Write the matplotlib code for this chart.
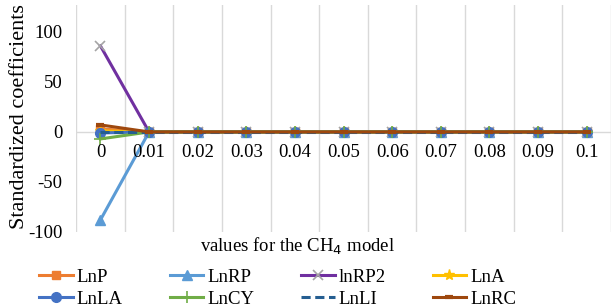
import numpy as np
import matplotlib.pyplot as plt

plt.rcParams['font.family'] = ['Liberation Serif', 'DejaVu Serif']
plt.rcParams['axes.unicode_minus'] = False

categories = ['0', '0.01', '0.02', '0.03', '0.04', '0.05', '0.06', '0.07', '0.08', '0.09', '0.1']

# standardized coefficients per series (all shrink to 0 after the first lambda)
LnP = [3, 0, 0, 0, 0, 0, 0, 0, 0, 0, 0]
LnRP = [-88, 0, 0, 0, 0, 0, 0, 0, 0, 0, 0]
lnRP2 = [86, 0, 0, 0, 0, 0, 0, 0, 0, 0, 0]
LnA = [1, 0, 0, 0, 0, 0, 0, 0, 0, 0, 0]
LnLA = [-1, 0, 0, 0, 0, 0, 0, 0, 0, 0, 0]
LnCY = [-7, 0, 0, 0, 0, 0, 0, 0, 0, 0, 0]
LnLI = [0, 0, 0, 0, 0, 0, 0, 0, 0, 0, 0]
LnRC = [7, 0, 0, 0, 0, 0, 0, 0, 0, 0, 0]

series = [
    ('LnP', LnP, dict(color='#ED7D31', marker='s', ms=6)),
    ('LnRP', LnRP, dict(color='#5B9BD5', marker='^', ms=7)),
    ('lnRP2', lnRP2, dict(color='#7030A0', marker='x', ms=7, mec='#A5A5A5', mew=1.2)),
    ('LnA', LnA, dict(color='#FFC000', marker='*', ms=8)),
    ('LnLA', LnLA, dict(color='#4472C4', marker='o', ms=7)),
    ('LnCY', LnCY, dict(color='#70AD47', marker='+', ms=8, mew=1.2)),
    ('LnLI', LnLI, dict(color='#255E91', ls=(0, (3, 1.5)))),
    ('LnRC', LnRC, dict(color='#9E480E', marker='_', ms=6, mew=3)),
]

fig = plt.figure(figsize=(6.14, 3.08), dpi=100)
ax = fig.add_axes([0.124, 0.247, 0.871, 0.737])

x = np.arange(len(categories))
lines = []
for name, vals, st in series:
    ln, = ax.plot(x, vals, lw=2.2, label=name, **st)
    lines.append(ln)

ax.set_xlim(-0.5, len(categories) - 0.5)
ax.set_ylim(-100, 127)
ax.set_yticks([-100, -50, 0, 50, 100])
ax.tick_params(axis='y', length=0, labelsize=13.5, pad=10)
ax.set_xticks([])
for xb in np.arange(-0.5, len(categories), 1.0):
    ax.axvline(xb, color='#D9D9D9', lw=1, zorder=0)
ax.axhline(0, color='#D9D9D9', lw=1, zorder=0)
for s in ax.spines.values():
    s.set_visible(False)

for i, lbl in enumerate(categories):
    ax.annotate(lbl, (i, 0), xytext=(0, -9), textcoords='offset points',
                ha='center', va='top', fontsize=13.5)

ax.set_ylabel('Standardized coefficients', fontsize=16)
ax.yaxis.set_label_coords(-0.089, 0.51)
fig.text(0.485, 0.2, 'values for the CH$_4$ model', ha='center', va='center', fontsize=13.5)

# legend filled row by row like the original
order = [0, 4, 1, 5, 2, 6, 3, 7]
fig.legend([lines[i] for i in order], [series[i][0] for i in order],
           loc='upper left', bbox_to_anchor=(0.064, 0.128), ncol=4, frameon=False,
           fontsize=13.5, handlelength=1.8, handletextpad=0.2, columnspacing=2.5,
           labelspacing=0.25, borderpad=0, borderaxespad=0)

plt.savefig('out.png', dpi=100)
